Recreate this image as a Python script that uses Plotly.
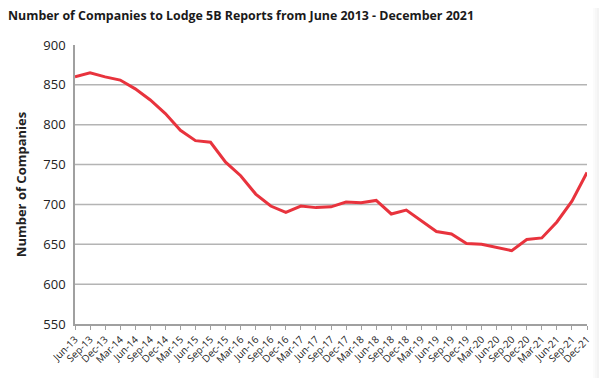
import plotly.graph_objects as go

quarters = ["Jun-13", "Sep-13", "Dec-13",
            "Mar-14", "Jun-14", "Sep-14", "Dec-14",
            "Mar-15", "Jun-15", "Sep-15", "Dec-15",
            "Mar-16", "Jun-16", "Sep-16", "Dec-16",
            "Mar-17", "Jun-17", "Sep-17", "Dec-17",
            "Mar-18", "Jun-18", "Sep-18", "Dec-18",
            "Mar-19", "Jun-19", "Sep-19", "Dec-19",
            "Mar-20", "Jun-20", "Sep-20", "Dec-20",
            "Mar-21", "Jun-21", "Sep-21", "Dec-21"]
companies = [860, 865, 860, 856, 845, 831, 814, 793, 780, 778, 753, 736, 713,
             698, 690, 698, 696, 697, 703, 702, 705, 688, 693, 680, 666, 663,
             651, 650, 646, 642, 656, 658, 678, 704, 740]
y_ticks = [550, 600, 650, 700, 750, 800, 850, 900]
grid_vals = [600, 650, 700, 750, 800, 850]

fig = go.Figure()
fig.add_trace(go.Scatter(x=list(range(len(quarters))), y=companies, mode="lines",
                         line=dict(color="#e8333d", width=3), hoverinfo="y"))

for g in grid_vals:
    fig.add_shape(type="line", xref="paper", x0=0, x1=1, yref="y", y0=g, y1=g,
                  line=dict(color="#b4b4b4", width=1.5), layer="below")

# right-edge page shadow: stepped grey bands
shade = ["#fbfbfb", "#f7f7f7", "#f3f3f3", "#efefef", "#ebebeb", "#e7e7e7", "#e3e3e3"]
for i, c in enumerate(shade):
    fig.add_shape(type="rect", xref="paper", yref="paper",
                  x0=1 + (6 + i * 2) / 514, x1=1 + (8 + i * 2) / 514,
                  y0=-54 / 279, y1=1 + 37 / 279,
                  fillcolor=c, line=dict(width=0), layer="above")

fig.update_layout(
    width=599, height=370,
    margin=dict(l=65, r=20, t=37, b=54),
    paper_bgcolor="white", plot_bgcolor="white",
    showlegend=False,
    font=dict(family="Open Sans, sans-serif", color="#222222"),
    title=dict(text="<b>Number of Companies to Lodge 5B Reports from June 2013 - December 2021</b>",
               x=0.0, xanchor="left", y=0.99, yanchor="top",
               font=dict(size=12.4, family="Open Sans", color="#1a1a1a")),
    xaxis=dict(range=[0, 34], tickmode="array", tickvals=list(range(len(quarters))),
               ticktext=quarters, tickangle=-45, tickfont=dict(size=10),
               showgrid=False, showline=True, linecolor="#a0a0a0", linewidth=1.5,
               ticks="outside", ticklen=4, tickcolor="#a0a0a0", zeroline=False,
               fixedrange=True),
    yaxis=dict(range=[550, 900], tickmode="array", tickvals=y_ticks,
               tickfont=dict(size=13), showgrid=False, showline=True,
               linecolor="#a0a0a0", linewidth=1.5, ticks="", zeroline=False,
               ticklabelstandoff=5,
               title=dict(text="<b>Number of Companies</b>", font=dict(size=13), standoff=14),
               fixedrange=True),
)

fig.write_html("out.html")
